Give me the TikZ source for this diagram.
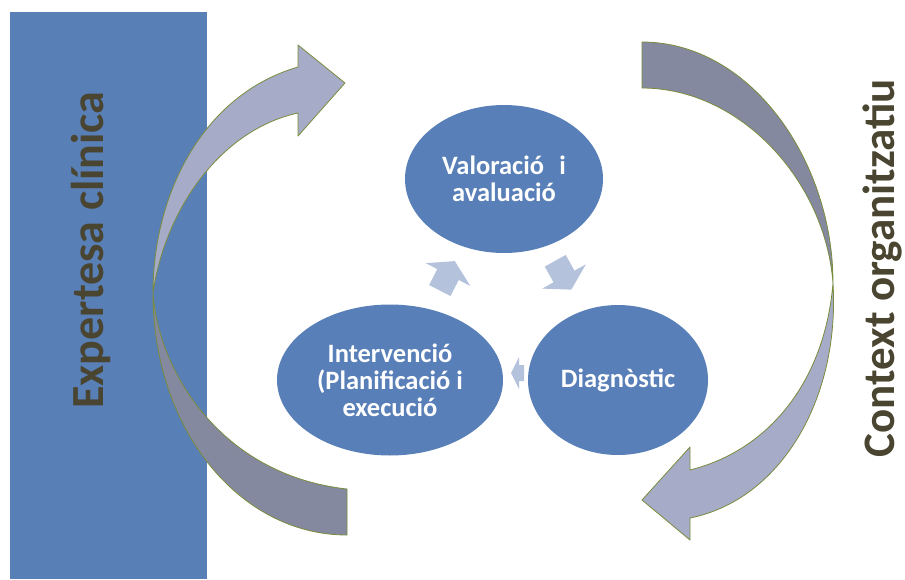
\documentclass[tikz,border=0pt]{standalone}
\usepackage{fontspec}
\setmainfont{Carlito}
\usetikzlibrary{shapes.geometric}
\definecolor{boxblue}{RGB}{89,127,183}
\definecolor{ellblue}{RGB}{88,127,183}
\definecolor{lightband}{RGB}{166,171,200}
\definecolor{darkband}{RGB}{132,137,159}
\definecolor{bandline}{RGB}{122,140,62}
\definecolor{smallarrow}{RGB}{180,194,220}
\definecolor{textdark}{RGB}{74,69,48}
\tikzset{
  ell/.style={ellipse, fill=ellblue, draw=none, inner sep=0pt, text=white, align=center,
    font=\bfseries\fontsize{26.5}{27}\selectfont},
  vtext/.style={rotate=90, anchor=base, text=textdark, inner sep=0pt,
    font=\bfseries\fontsize{46}{46}\selectfont},
  bandlight/.style={fill=lightband, draw=bandline, line width=0.8pt, line join=round},
  banddark/.style={fill=darkband, draw=bandline, line width=0.8pt, line join=round},
  blockarrow/.style={fill=smallarrow, draw=none}
}
\begin{document}
\begin{tikzpicture}[x=1pt,y=-1pt]
\useasboundingbox (0,0) rectangle (905,579);
\fill[white] (0,0) rectangle (905,579);
% left blue band
\node[rectangle, fill=boxblue, draw=none, inner sep=0pt, minimum width=197pt, minimum height=567pt, anchor=north west] (expbox) at (10,12) {};
\node[vtext] (exp) at (103,250) {Expertesa clínica};
% right label
\node[vtext, font=\bfseries\fontsize{45}{45}\selectfont] (ctx) at (894,268) {Context organitzatiu};
% left curved arrow
\draw[banddark] (153,293) .. controls (153,430) and (240,535) .. (347,535) -- (347,489)
  .. controls (220,475) and (158,370) .. (153,293) -- cycle;
\draw[bandlight] (153,293) .. controls (153,195) and (202,95) .. (298,67) -- (298,45) -- (345,83)
  -- (298,136) -- (298,113) .. controls (220,130) and (165,210) .. (153,293) -- cycle;
% right curved arrow
\draw[banddark] (642,42) .. controls (750,42) and (833,160) .. (833,283)
  .. controls (825,180) and (740,88) .. (642,88) -- cycle;
\draw[bandlight] (833,283) .. controls (840,400) and (780,500) .. (690,518) -- (690,540)
  -- (642,500) -- (690,447) -- (690,470) .. controls (770,450) and (825,380) .. (833,283) -- cycle;
% cycle ellipses
\node[ell, minimum width=198pt, minimum height=148pt] (val) at (504,179) {Valoració\hspace{0.35em} i\\avaluació};
\node[ell, minimum width=226pt, minimum height=151pt] (int) at (390,380) {Intervenció\\(Planificació i\\execució};
\node[ell, minimum width=180pt, minimum height=150pt] (diag) at (618,380) {Diagnòstic};
% small block arrows
\begin{scope}[shift={(448,274.5)}, rotate=63]
  \fill[blockarrow] (-18,-12) -- (0,-12) -- (0,-25) -- (15,0) -- (0,25) -- (0,12) -- (-18,12) -- cycle;
\end{scope}
\begin{scope}[shift={(564,276.5)}, rotate=-61]
  \fill[blockarrow] (-18,-12) -- (0,-12) -- (0,-25) -- (15,0) -- (0,25) -- (0,12) -- (-18,12) -- cycle;
\end{scope}
\fill[blockarrow] (524,365) -- (519,365) -- (519,357) -- (511,373) -- (519,389) -- (519,381) -- (524,381) -- cycle;
\end{tikzpicture}
\end{document}
